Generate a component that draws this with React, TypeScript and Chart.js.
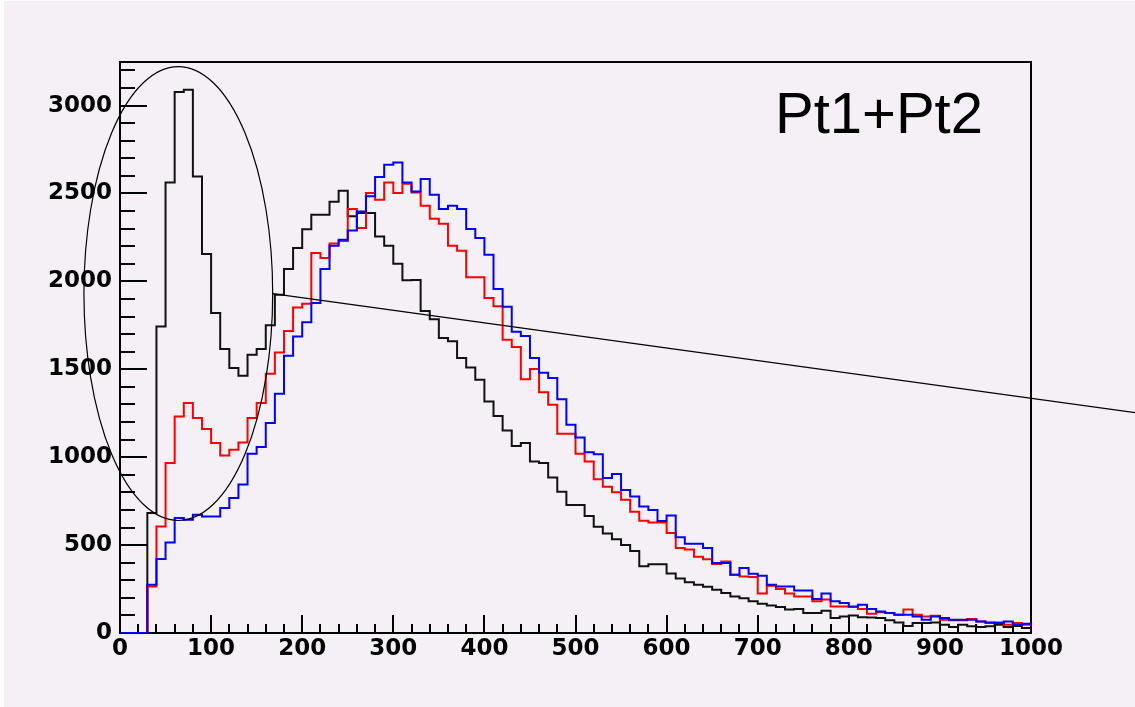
import React, { useEffect, useRef } from "react";
import { Chart, registerables } from "chart.js";

Chart.register(...registerables);

// ---- axis ranges / bins ----
const X_MIN = 0;
const X_MAX = 1000;
const Y_MIN = 0;
const Y_MAX = 3248;
const BIN_WIDTH = 10;

const xTickValues = [0, 100, 200, 300, 400, 500, 600, 700, 800, 900, 1000];
const yTickValues = [0, 500, 1000, 1500, 2000, 2500, 3000];

// ---- histogram contents (100 bins of width 10) ----
const blackCounts = [
  0, 0, 0, 683, 1744, 2563, 3077, 3090, 2597, 2156,
  1820, 1615, 1507, 1464, 1583, 1615, 1750, 1924, 2070, 2190,
  2296, 2379, 2379, 2453, 2516, 2370, 2389, 2389, 2255, 2203,
  2100, 2006, 2008, 1831, 1784, 1678, 1659, 1564, 1510, 1441,
  1317, 1234, 1152, 1063, 1081, 976, 967, 885, 804, 728,
  728, 665, 605, 566, 533, 500, 467, 379, 391, 391,
  339, 310, 288, 275, 263, 246, 228, 208, 197, 180,
  167, 157, 148, 133, 137, 114, 114, 127, 85, 94,
  100, 89, 88, 85, 72, 60, 40, 57, 57, 60,
  47, 34, 47, 38, 34, 38, 47, 34, 40, 28,
];

const redCounts = [
  0, 0, 0, 265, 606, 967, 1232, 1308, 1223, 1160,
  1081, 1009, 1043, 1084, 1223, 1308, 1475, 1596, 1718, 1852,
  1873, 2162, 2133, 2215, 2230, 2412, 2304, 2503, 2465, 2563,
  2503, 2556, 2506, 2431, 2357, 2328, 2203, 2175, 2023, 2023,
  1906, 1858, 1668, 1627, 1443, 1502, 1369, 1299, 1133, 1133,
  1019, 976, 875, 832, 801, 758, 690, 638, 628, 628,
  569, 483, 475, 434, 419, 392, 407, 332, 322, 318,
  224, 269, 250, 224, 208, 208, 180, 190, 151, 151,
  148, 137, 110, 118, 114, 104, 133, 104, 94, 98,
  76, 72, 72, 80, 66, 57, 60, 47, 57, 47,
];

const blueCounts = [
  0, 0, 0, 275, 421, 515, 654, 644, 673, 663,
  663, 711, 768, 844, 1020, 1058, 1195, 1361, 1577, 1687,
  1767, 1877, 2070, 2203, 2237, 2290, 2398, 2484, 2594, 2664,
  2677, 2563, 2512, 2582, 2493, 2412, 2431, 2412, 2298, 2247,
  2152, 1957, 1856, 1713, 1689, 1564, 1480, 1450, 1329, 1185,
  1112, 1028, 1017, 882, 905, 813, 777, 720, 699, 637,
  668, 545, 507, 507, 483, 398, 398, 332, 370, 337,
  326, 275, 265, 265, 242, 242, 193, 224, 180, 171,
  151, 161, 137, 123, 114, 104, 104, 94, 76, 94,
  85, 76, 76, 76, 66, 60, 57, 66, 47, 52,
];

// ---- annotations (data coordinates) ----
const labelText = "Pt1+Pt2";
const labelAnchor = { x: 719, y: 2844 };
const ellipseAnno = { cx: 64, cy: 1931, rx: 103.6, ry: 1291 };
const lineAnno = { x1: 167.4, y1: 1930, x2: 1115, y2: 1253 };

function toSteps(counts: number[]) {
  const pts = counts.map((c, i) => ({ x: X_MIN + i * BIN_WIDTH, y: c }));
  pts.push({ x: X_MIN + counts.length * BIN_WIDTH, y: counts[counts.length - 1] });
  return pts;
}

const BG = "#f5f0f5";

const rootPlugin = {
  id: "rootFrame",
  beforeDraw(chart: any) {
    const { ctx, width, height } = chart;
    ctx.save();
    ctx.fillStyle = "#ffffff";
    ctx.fillRect(0, 0, width, height);
    ctx.fillStyle = BG;
    ctx.fillRect(4, 1, width - 4, height - 1);
    ctx.restore();
  },
  beforeDatasetsDraw(chart: any) {
    const { ctx, chartArea } = chart;
    const { left, right, top, bottom } = chartArea;
    const xs = chart.scales.x;
    const ys = chart.scales.y;
    ctx.save();
    ctx.strokeStyle = "#000";
    ctx.lineWidth = 2;
    ctx.strokeRect(left, top, right - left, bottom - top);
    // y ticks (inside, pointing right)
    for (let v = 0; v <= Y_MAX; v += 100) {
      const y = Math.round(ys.getPixelForValue(v));
      const len = v % 500 === 0 ? 27 : 15;
      ctx.beginPath();
      ctx.moveTo(left, y);
      ctx.lineTo(left + len, y);
      ctx.stroke();
    }
    // x ticks (inside, pointing up)
    for (let v = 0; v <= X_MAX; v += 20) {
      const x = Math.round(xs.getPixelForValue(v));
      const len = v % 100 === 0 ? 18 : 9;
      ctx.beginPath();
      ctx.moveTo(x, bottom);
      ctx.lineTo(x, bottom - len);
      ctx.stroke();
    }
    ctx.restore();
  },
  afterDatasetsDraw(chart: any) {
    const { ctx } = chart;
    const xs = chart.scales.x;
    const ys = chart.scales.y;
    ctx.save();
    ctx.strokeStyle = "#000";
    ctx.lineWidth = 1.2;
    // ellipse
    const cx = xs.getPixelForValue(ellipseAnno.cx);
    const cy = ys.getPixelForValue(ellipseAnno.cy);
    const rx = Math.abs(xs.getPixelForValue(ellipseAnno.cx + ellipseAnno.rx) - cx);
    const ry = Math.abs(ys.getPixelForValue(ellipseAnno.cy + ellipseAnno.ry) - cy);
    ctx.beginPath();
    ctx.ellipse(cx, cy, rx, ry, 0, 0, Math.PI * 2);
    ctx.stroke();
    // line
    ctx.beginPath();
    ctx.moveTo(xs.getPixelForValue(lineAnno.x1), ys.getPixelForValue(lineAnno.y1));
    ctx.lineTo(xs.getPixelForValue(lineAnno.x2), ys.getPixelForValue(lineAnno.y2));
    ctx.stroke();
    // label
    ctx.fillStyle = "#000";
    ctx.font = "58px 'Liberation Sans', Arial, sans-serif";
    ctx.textAlign = "left";
    ctx.textBaseline = "alphabetic";
    ctx.fillText(labelText, xs.getPixelForValue(labelAnchor.x), ys.getPixelForValue(labelAnchor.y));
    ctx.restore();
  },
};

const tickFont = { family: "'DejaVu Sans', sans-serif", weight: "bold" as const, size: 23 };

export default function App() {
  const canvasRef = useRef<HTMLCanvasElement | null>(null);

  useEffect(() => {
    if (!canvasRef.current) return;
    const chart = new Chart(canvasRef.current, {
      type: "line",
      data: {
        datasets: [
          {
            label: "blue",
            data: toSteps(blueCounts),
            borderColor: "#0000ff",
            borderWidth: 2,
            pointRadius: 0,
            stepped: "before",
            fill: false,
          },
          {
            label: "red",
            data: toSteps(redCounts),
            borderColor: "#ff0000",
            borderWidth: 2,
            pointRadius: 0,
            stepped: "before",
            fill: false,
          },
          {
            label: "black",
            data: toSteps(blackCounts),
            borderColor: "#111111",
            borderWidth: 2,
            pointRadius: 0,
            stepped: "before",
            fill: false,
          },
        ],
      },
      options: {
        responsive: false,
        animation: false,
        devicePixelRatio: 1,
        layout: { padding: { top: 62, right: 104, left: 0, bottom: 0 } },
        plugins: {
          legend: { display: false },
          tooltip: { enabled: false },
        },
        scales: {
          x: {
            type: "linear",
            min: X_MIN,
            max: X_MAX,
            grid: { display: false, drawTicks: false },
            border: { display: false },
            afterBuildTicks: (scale: any) => {
              scale.ticks = xTickValues.map((v) => ({ value: v }));
            },
            afterFit: (scale: any) => {
              scale.height = 74;
            },
            ticks: {
              color: "#000",
              font: tickFont,
              padding: 2,
              maxRotation: 0,
              autoSkip: false,
              callback: (v: any) => String(v),
            },
          },
          y: {
            type: "linear",
            min: Y_MIN,
            max: Y_MAX,
            grid: { display: false, drawTicks: false },
            border: { display: false },
            afterBuildTicks: (scale: any) => {
              scale.ticks = yTickValues.map((v) => ({ value: v }));
            },
            afterFit: (scale: any) => {
              scale.width = 120;
            },
            ticks: {
              color: "#000",
              font: tickFont,
              padding: 8,
              autoSkip: false,
              callback: (v: any) => String(v),
            },
          },
        },
      },
      plugins: [rootPlugin],
    } as any);
    return () => chart.destroy();
  }, []);

  return (
    <div style={{ position: "fixed", left: 0, top: 0, width: 1135, height: 707, background: BG }}>
      <canvas ref={canvasRef} width={1135} height={707} style={{ display: "block" }} />
    </div>
  );
}
